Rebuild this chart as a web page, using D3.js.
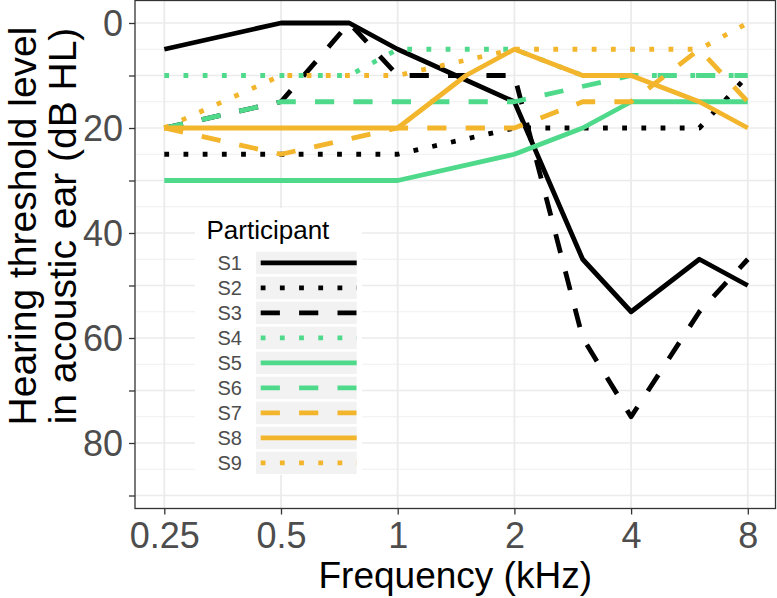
<!DOCTYPE html>
<html>
<head>
<meta charset="utf-8">
<script src="https://cdn.jsdelivr.net/npm/d3@7"></script>
<style>
  html, body { margin: 0; padding: 0; background: #ffffff; }
  svg { display: block; }
  text { font-family: "Liberation Sans", Arial, Helvetica, sans-serif; }
</style>
</head>
<body>
<svg id="chart" width="777" height="598"></svg>
<script>
// ---------------- data ----------------
const freqs = [0.25, 0.5, 0.75, 1, 1.5, 2, 3, 4, 6, 8];
const participants = ["S1", "S2", "S3", "S4", "S5", "S6", "S7", "S8", "S9"];
const S1 = [5, 0, 0, 5, null, 15, 45, 55, 45, 50];
const S2 = [25, 25, 25, 25, null, 20, 20, 20, 20, 10];
const S3 = [20, 15, 0, 10, 10, 10, 60, 75, 55, 45];
const S4 = [10, 10, 10, 5, 5, 5, 10, 10, 10, 10];
const S5 = [30, 30, 30, 30, null, 25, 20, 15, 15, 15];
const S6 = [20, 15, 15, 15, 15, 15, null, 10, 10, 10];
const S7 = [20, 25, null, 20, 20, 20, 15, 15, 5, 15];
const S8 = [20, 20, 20, 20, 10, 5, 10, 10, 15, 20];
const S9 = [20, 10, 10, 10, null, 5, 5, 5, 5, 0];
const seriesValues = [S1, S2, S3, S4, S5, S6, S7, S8, S9];
const colourGroup = ["black", "black", "black", "green", "green", "green", "orange", "orange", "orange"];
const lineTypes = ["solid", "dotted", "dashed", "dotted", "solid", "dashed", "dashed", "solid", "dotted"];
const xTickValues = [0.25, 0.5, 1, 2, 4, 8];
const xTickLabels = ["0.25", "0.5", "1", "2", "4", "8"];
const yTickValues = [0, 10, 20, 30, 40, 50, 60, 70, 80, 90];
const yTickLabels = ["0", "", "20", "", "40", "", "60", "", "80", ""];
const yMinor = [5, 15, 25, 35, 45, 55, 65, 75, 85];
const xTitle = "Frequency (kHz)";
const yTitle = ["Hearing threshold level", "in acoustic ear (dB HL)"];
const legendTitle = "Participant";

// ---------------- styles ----------------
const palette = { black: "#000000", green: "#4FD98A", orange: "#F2B52B" };
const LW = 4.8;
const dashes = { solid: null, dotted: `${LW},${LW * 3}`, dashed: `${LW * 4},${LW * 4}` };

const panel = { left: 135, right: 775.5, top: 0.5, bottom: 508.5 };

const svg = d3.select("#chart");

const x = d3.scaleLog().base(2).domain([0.25, 8]).range([164.3, 747.8]);
const y = d3.scaleLinear().domain([0, 80]).range([23, 443]);

// panel background
svg.append("rect")
  .attr("x", panel.left).attr("y", panel.top)
  .attr("width", panel.right - panel.left).attr("height", panel.bottom - panel.top)
  .attr("fill", "#ffffff");

const defs = svg.append("defs");
defs.append("clipPath").attr("id", "panelClip")
  .append("rect")
  .attr("x", panel.left).attr("y", panel.top)
  .attr("width", panel.right - panel.left).attr("height", panel.bottom - panel.top);

const grid = svg.append("g").attr("clip-path", "url(#panelClip)");
grid.selectAll("line.ymin").data(yMinor).join("line")
  .attr("x1", panel.left).attr("x2", panel.right)
  .attr("y1", d => y(d)).attr("y2", d => y(d))
  .attr("stroke", "#EFEFEF").attr("stroke-width", 1);
grid.selectAll("line.ymaj").data(yTickValues).join("line")
  .attr("x1", panel.left).attr("x2", panel.right)
  .attr("y1", d => y(d)).attr("y2", d => y(d))
  .attr("stroke", "#EBEBEB").attr("stroke-width", 1.6);
grid.selectAll("line.xmaj").data(xTickValues).join("line")
  .attr("y1", panel.top).attr("y2", panel.bottom)
  .attr("x1", d => x(d)).attr("x2", d => x(d))
  .attr("stroke", "#EBEBEB").attr("stroke-width", 1.8);

// series lines
const lineGen = d3.line()
  .defined(d => d.v !== null)
  .x(d => x(d.f)).y(d => y(d.v));

const linesG = svg.append("g").attr("clip-path", "url(#panelClip)");
participants.forEach((p, i) => {
  const pts = freqs.map((f, j) => ({ f: f, v: seriesValues[i][j] })).filter(d => d.v !== null);
  linesG.append("path")
    .datum(pts)
    .attr("d", lineGen)
    .attr("fill", "none")
    .attr("stroke", palette[colourGroup[i]])
    .attr("stroke-width", LW)
    .attr("stroke-linejoin", "round")
    .attr("stroke-linecap", "butt")
    .attr("stroke-dasharray", dashes[lineTypes[i]]);
});

// panel border
svg.append("rect")
  .attr("x", panel.left).attr("y", panel.top)
  .attr("width", panel.right - panel.left).attr("height", panel.bottom - panel.top)
  .attr("fill", "none").attr("stroke", "#333333").attr("stroke-width", 1.3);

// axes
const xAxis = svg.append("g").attr("transform", `translate(0,${panel.bottom})`)
  .call(d3.axisBottom(x).tickValues(xTickValues)
    .tickFormat((d, i) => xTickLabels[i]).tickSize(6).tickPadding(8));
const yAxis = svg.append("g").attr("transform", `translate(${panel.left},0)`)
  .call(d3.axisLeft(y).tickValues(yTickValues)
    .tickFormat((d, i) => yTickLabels[i]).tickSize(6).tickPadding(6));
[xAxis, yAxis].forEach(g => {
  g.select(".domain").remove();
  g.selectAll(".tick line").attr("stroke", "#333333").attr("stroke-width", 1.3);
  g.selectAll(".tick text").attr("fill", "#4D4D4D").attr("font-size", 36)
    .style("font-family", "'Liberation Sans', Arial, sans-serif");
});
xAxis.selectAll(".tick text").attr("dy", "0.71em");
yAxis.selectAll(".tick text").attr("dy", "0.36em");

// axis titles
svg.append("text")
  .attr("x", (panel.left + panel.right) / 2).attr("y", 588)
  .attr("text-anchor", "middle").attr("font-size", 37).attr("fill", "#000")
  .text(xTitle);
const yt = svg.append("text")
  .attr("transform", `translate(0,226) rotate(-90)`)
  .attr("text-anchor", "middle").attr("font-size", 39).attr("fill", "#000");
yt.append("tspan").attr("x", 0).attr("y", 36).text(yTitle[0]);
yt.append("tspan").attr("x", 0).attr("y", 76).text(yTitle[1]);

// legend
const leg = svg.append("g");
leg.append("rect").attr("x", 195).attr("y", 208).attr("width", 167).attr("height", 267)
  .attr("fill", "#ffffff");
leg.append("text").attr("x", 206.5).attr("y", 238.5).attr("font-size", 26)
  .attr("fill", "#000").text(legendTitle);
const keyX = 256, keyW = 100.7, keyH = 22.4, keyStep = 25, key0 = 251.7;
defs.append("clipPath").attr("id", "keyClip")
  .append("rect").attr("x", keyX).attr("y", key0).attr("width", keyW).attr("height", keyStep * 9);
participants.forEach((p, i) => {
  const ky = key0 + i * keyStep;
  leg.append("rect").attr("x", keyX).attr("y", ky).attr("width", keyW).attr("height", keyH)
    .attr("fill", "#F2F2F2");
  leg.append("line")
    .attr("x1", keyX + 4.7).attr("x2", keyX + keyW + 10)
    .attr("y1", ky + keyH / 2).attr("y2", ky + keyH / 2)
    .attr("clip-path", "url(#keyClip)")
    .attr("stroke", palette[colourGroup[i]])
    .attr("stroke-width", LW)
    .attr("stroke-linecap", "butt")
    .attr("stroke-dasharray", dashes[lineTypes[i]]);
  leg.append("text").attr("x", 217.5).attr("y", ky + keyH / 2).attr("dy", "0.36em")
    .attr("font-size", 20).attr("fill", "#4D4D4D").text(p);
});
</script>
</body>
</html>
